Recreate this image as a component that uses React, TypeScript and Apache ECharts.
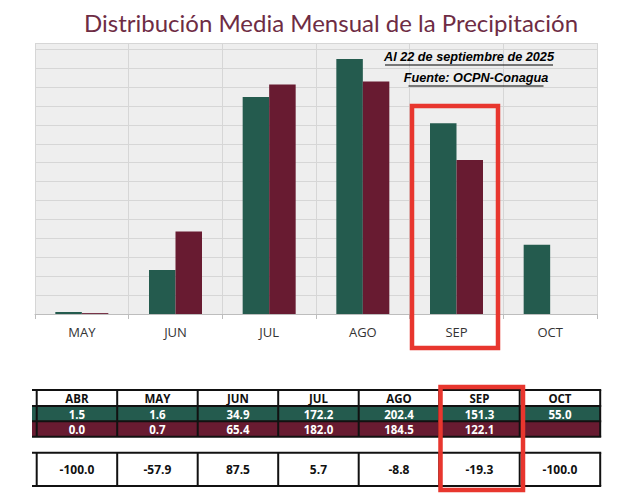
import React, { useEffect, useRef } from "react";
import * as echarts from "echarts";

const chartMonths = ["MAY", "JUN", "JUL", "AGO", "SEP", "OCT"];
const normalValues = [1.6, 34.9, 172.2, 202.4, 151.3, 55.0];
const currentValues: (number | null)[] = [0.7, 65.4, 182.0, 184.5, 122.1, null];

const tableMonths = ["ABR", "MAY", "JUN", "JUL", "AGO", "SEP", "OCT"];
const tableNormal = ["1.5", "1.6", "34.9", "172.2", "202.4", "151.3", "55.0"];
const tableCurrent = ["0.0", "0.7", "65.4", "182.0", "184.5", "122.1", ""];
const tableDiff = ["-100.0", "-57.9", "87.5", "5.7", "-8.8", "-19.3", "-100.0"];

const titleText = "Distribución Media Mensual de la Precipitación";
const noteDate = "Al 22 de septiembre de 2025";
const noteSource = "Fuente: OCPN-Conagua";

const GREEN = "#245b4e";
const MAROON = "#681b31";
const RED = "#e8362e";

export default function App() {
  const ref = useRef<HTMLDivElement>(null);
  useEffect(() => {
    document.body.style.margin = "0";
    const chart = echarts.init(ref.current!, null, { renderer: "svg" });

    const graphics: any[] = [];
    // title
    graphics.push({
      type: "text",
      x: 331,
      y: 22,
      style: {
        text: titleText,
        fill: "#6e2c44",
        font: 'normal 24px Lato, "Open Sans", sans-serif',
        textAlign: "center",
        textVerticalAlign: "middle",
      },
    });
    // notes
    const notes = [
      { t: noteDate, x: 469, y: 57, w: 168 },
      { t: noteSource, x: 476, y: 78, w: 135 },
    ];
    notes.forEach((n) => {
      graphics.push({
        type: "text",
        x: n.x,
        y: n.y,
        z: 50,
        style: {
          text: n.t,
          fill: "#000",
          font: 'italic bold 12.7px "Liberation Sans Narrow", "Liberation Sans", Arial, sans-serif',
          textAlign: "center",
          textVerticalAlign: "middle",
        },
      });
      graphics.push({
        type: "line",
        z: 50,
        shape: { x1: n.x - n.w / 2, y1: n.y + 8, x2: n.x + n.w / 2, y2: n.y + 8 },
        style: { stroke: "#000", lineWidth: 1 },
      });
    });
    // red box on chart
    graphics.push({
      type: "rect",
      z: 100,
      shape: { x: 412, y: 106, width: 86, height: 242 },
      style: { fill: "none", stroke: RED, lineWidth: 4.5 },
    });

    // table
    const tLeft = 36.7;
    const colW = 80.5;
    const tRight = tLeft + colW * tableMonths.length;
    const rows = [
      { y: 390, h: 16, fill: "#ffffff", color: "#111", vals: tableMonths, size: 11.5 },
      { y: 406, h: 15.3, fill: GREEN, color: "#ffffff", vals: tableNormal, size: 11.5 },
      { y: 421.3, h: 15.4, fill: MAROON, color: "#ffffff", vals: tableCurrent, size: 11.5 },
      { y: 452.7, h: 33.3, fill: "#ffffff", color: "#111", vals: tableDiff, size: 12 },
    ];
    rows.forEach((r) => {
      graphics.push({
        type: "rect",
        shape: { x: 32, y: r.y, width: tRight - 32, height: r.h },
        style: { fill: r.fill },
      });
      r.vals.forEach((v, i) => {
        graphics.push({
          type: "text",
          x: tLeft + colW * i + colW / 2,
          y: r.y + r.h / 2 + 0.5,
          style: {
            text: v,
            fill: r.color,
            font: `bold ${r.size}px "Open Sans", Lato, sans-serif`,
            textAlign: "center",
            textVerticalAlign: "middle",
          },
        });
      });
    });
    // table lines
    const hLines = [390, 406, 421.3, 436.7, 452.7, 486];
    hLines.forEach((y) => {
      graphics.push({
        type: "line",
        shape: { x1: 32, y1: y, x2: tRight + 1, y2: y },
        style: { stroke: "#111", lineWidth: 2 },
      });
    });
    for (let i = 0; i <= tableMonths.length; i++) {
      const x = tLeft + colW * i;
      graphics.push({
        type: "line",
        shape: { x1: x, y1: 390, x2: x, y2: 436.7 },
        style: { stroke: "#111", lineWidth: 2 },
      });
      graphics.push({
        type: "line",
        shape: { x1: x, y1: 452.7, x2: x, y2: 486 },
        style: { stroke: "#111", lineWidth: 2 },
      });
    }
    // red box on table
    graphics.push({
      type: "rect",
      z: 100,
      shape: { x: 440.5, y: 387, width: 82.5, height: 103 },
      style: { fill: "none", stroke: RED, lineWidth: 4.5 },
    });

    chart.setOption({
      animation: false,
      backgroundColor: "#ffffff",
      grid: {
        left: 35,
        right: 37,
        top: 43,
        bottom: 188,
        show: true,
        backgroundColor: "#eeeeee",
        borderWidth: 0,
      },
      xAxis: {
        type: "category",
        data: chartMonths,
        axisLine: { lineStyle: { color: "#bdbdbd", width: 1 } },
        axisTick: { show: true, length: 5, lineStyle: { color: "#bdbdbd" } },
        splitLine: { show: true, lineStyle: { color: "#d6d6d6", width: 1 } },
        axisLabel: {
          color: "#333",
          fontSize: 13,
          margin: 11,
          fontFamily: '"Open Sans", Lato, sans-serif',
        },
      },
      yAxis: {
        type: "value",
        min: 0,
        max: 215,
        interval: 15,
        axisLabel: { show: false },
        axisLine: { show: false },
        axisTick: { show: false },
        splitLine: { lineStyle: { color: "#d6d6d6", width: 1 } },
      },
      series: [
        {
          type: "bar",
          data: normalValues,
          barWidth: 26.5,
          barGap: "0%",
          itemStyle: { color: GREEN },
        },
        {
          type: "bar",
          data: currentValues,
          barWidth: 26.5,
          barGap: "0%",
          itemStyle: { color: MAROON },
        },
      ],
      graphic: graphics,
    });
    return () => chart.dispose();
  }, []);
  return <div ref={ref} style={{ width: 634, height: 502 }} />;
}
